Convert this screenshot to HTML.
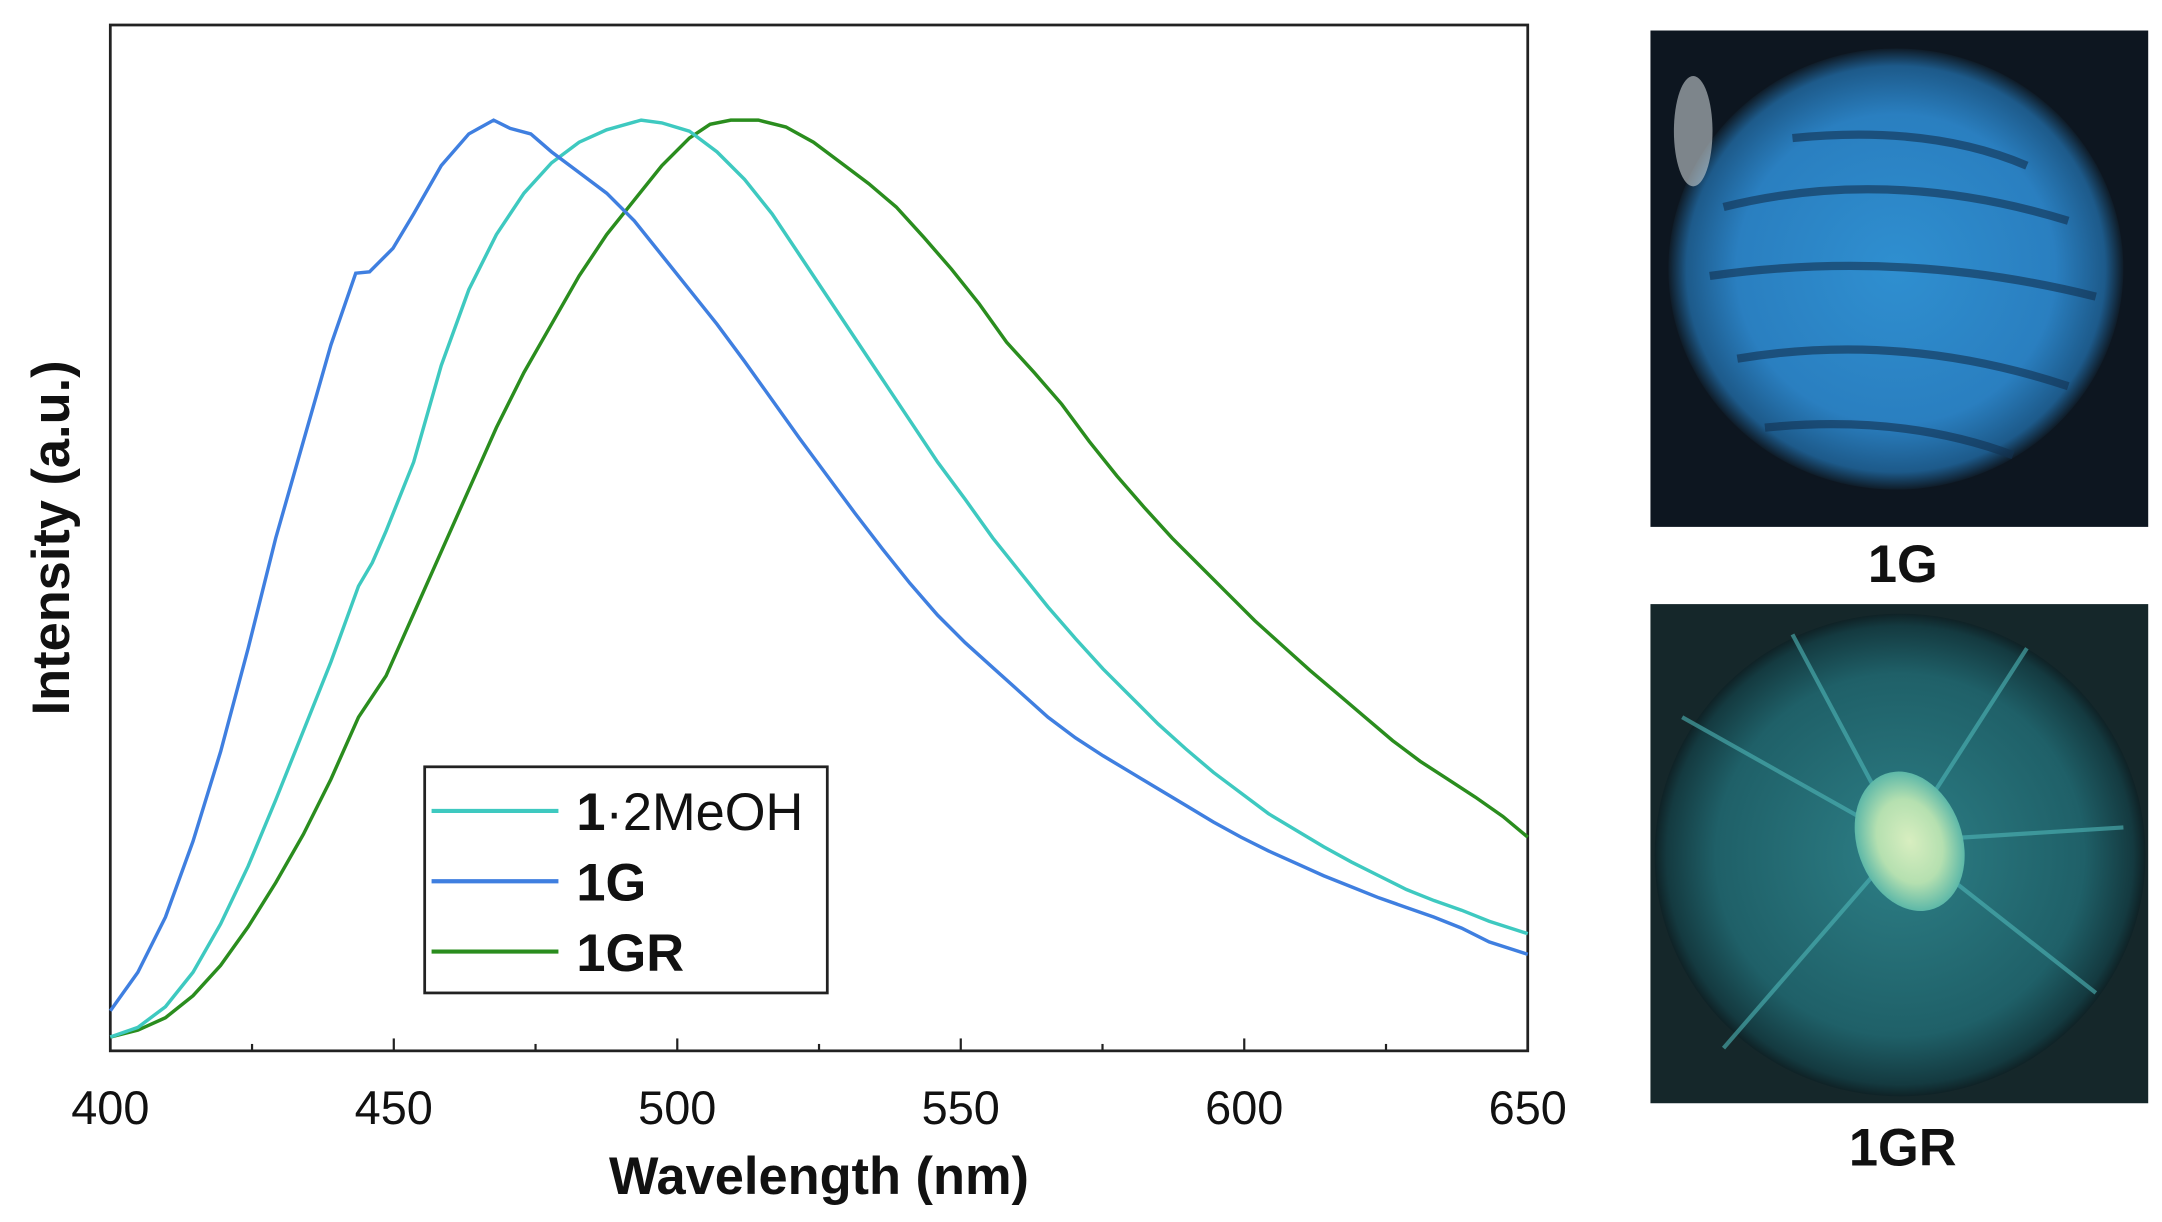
<!DOCTYPE html>
<html><head><meta charset="utf-8"><style>
html,body{margin:0;padding:0;background:#fff;}
svg{display:block;}
</style></head><body>
<svg width="2162" height="1222" viewBox="0 0 1568 886" xmlns="http://www.w3.org/2000/svg" font-family="Liberation Sans, Arial, sans-serif">
<defs>
<radialGradient id="g1" cx="50%" cy="50%" r="50%">
<stop offset="0" stop-color="#2f8fd0"/><stop offset="0.7" stop-color="#2a7fc0"/><stop offset="0.92" stop-color="#1d5a8a"/><stop offset="1" stop-color="#0f1c28"/>
</radialGradient>
<radialGradient id="g2" cx="50%" cy="50%" r="50%">
<stop offset="0" stop-color="#2d7f86"/><stop offset="0.75" stop-color="#1f6068"/><stop offset="0.95" stop-color="#143a40"/><stop offset="1" stop-color="#0f2226"/>
</radialGradient>
<radialGradient id="g3" cx="50%" cy="50%" r="50%">
<stop offset="0" stop-color="#d8eec0"/><stop offset="0.6" stop-color="#b5e0b0"/><stop offset="1" stop-color="#5db8a8"/>
</radialGradient>
</defs>
<rect x="80" y="18" width="1028" height="744" fill="none" stroke="#222" stroke-width="2"/>
<g stroke="#222" stroke-width="1.6">
<line x1="80" y1="762" x2="80" y2="753"/><line x1="285.6" y1="762" x2="285.6" y2="753"/><line x1="491.2" y1="762" x2="491.2" y2="753"/><line x1="696.8" y1="762" x2="696.8" y2="753"/><line x1="902.4" y1="762" x2="902.4" y2="753"/>
<line x1="182.8" y1="762" x2="182.8" y2="757"/><line x1="388.4" y1="762" x2="388.4" y2="757"/><line x1="594" y1="762" x2="594" y2="757"/><line x1="799.6" y1="762" x2="799.6" y2="757"/><line x1="1005.2" y1="762" x2="1005.2" y2="757"/>
</g>
<g font-size="34" fill="#111" text-anchor="middle">
<text x="80" y="815">400</text><text x="285.6" y="815">450</text><text x="491.2" y="815">500</text><text x="696.8" y="815">550</text><text x="902.4" y="815">600</text><text x="1108" y="815">650</text>
</g>
<text x="594" y="866" font-size="38" font-weight="bold" text-anchor="middle" fill="#111">Wavelength (nm)</text>
<text transform="translate(50,390) rotate(-90)" font-size="38" font-weight="bold" text-anchor="middle" fill="#111">Intensity (a.u.)</text>
<polyline fill="none" stroke="#2a8d1e" stroke-width="2.5" points="80,752 100,747 120,738 140,722 160,700 180,672 200,640 220,605 240,565 260,520 280,490 300,445 320,400 340,355 360,310 380,270 400,235 420,200 440,170 460,145 480,120 500,100 515,90 530,87 550,87 570,92 590,103 610,118 630,133 650,150 670,172 690,195 710,220 730,248 750,270 770,293 790,320 810,345 830,368 850,390 870,410 890,430 910,450 930,468 950,486 970,503 990,520 1010,537 1030,552 1050,565 1070,578 1090,592 1108,607"/>
<polyline fill="none" stroke="#3ec9c0" stroke-width="2.5" points="80,752 100,745 120,730 140,705 160,670 180,628 200,580 220,530 240,480 260,425 270,408 280,385 300,335 320,265 340,210 360,170 380,140 400,118 420,103 440,94 465,87 480,89 500,95 520,110 540,130 560,155 580,185 600,215 620,245 640,275 660,305 680,335 700,362 720,390 740,415 760,440 780,463 800,485 820,505 840,525 860,543 880,560 900,575 920,590 940,602 960,614 980,625 1000,635 1020,645 1040,653 1060,660 1080,668 1108,677"/>
<polyline fill="none" stroke="#3f7fe0" stroke-width="2.5" points="80,733 100,705 120,665 140,610 160,545 180,470 200,390 220,320 240,250 258,198 268,197 285,180 300,155 320,120 340,97 358,87 370,93 385,97 400,110 420,125 440,140 460,160 480,185 500,210 520,235 540,262 560,290 580,318 600,345 620,372 640,398 660,423 680,446 700,466 720,484 740,502 760,520 780,535 800,548 820,560 840,572 860,584 880,596 900,607 920,617 940,626 960,635 980,643 1000,651 1020,658 1040,665 1060,673 1080,683 1108,692"/>
<rect x="308" y="556" width="292" height="164" fill="#fff" stroke="#222" stroke-width="2"/>
<line x1="313" y1="588" x2="405" y2="588" stroke="#3ec9c0" stroke-width="3"/>
<line x1="313" y1="639" x2="405" y2="639" stroke="#3f7fe0" stroke-width="3"/>
<line x1="313" y1="690" x2="405" y2="690" stroke="#2a8d1e" stroke-width="3"/>
<g font-size="38" fill="#111">
<text x="418" y="602"><tspan font-weight="bold">1</tspan>·2MeOH</text>
<text x="418" y="653" font-weight="bold">1G</text>
<text x="418" y="704" font-weight="bold">1GR</text>
</g>
<rect x="1197" y="22" width="361" height="360" fill="#0d1620"/>
<ellipse cx="1375" cy="195" rx="165" ry="160" fill="url(#g1)"/>
<g stroke="#123150" stroke-width="6" fill="none" opacity="0.6">
<path d="M1250,150 Q1370,120 1500,160"/><path d="M1240,200 Q1380,180 1520,215"/><path d="M1260,260 Q1380,240 1500,280"/><path d="M1300,100 Q1400,90 1470,120"/><path d="M1280,310 Q1380,300 1460,330"/>
</g>
<ellipse cx="1228" cy="95" rx="14" ry="40" fill="#c8d0d4" opacity="0.6"/>
<rect x="1197" y="438" width="361" height="362" fill="#15272a"/>
<ellipse cx="1378" cy="620" rx="178" ry="175" fill="url(#g2)"/>
<g stroke="#4fb7b8" stroke-width="3" opacity="0.6">
<line x1="1380" y1="610" x2="1220" y2="520"/><line x1="1380" y1="610" x2="1250" y2="760"/><line x1="1380" y1="610" x2="1520" y2="720"/><line x1="1380" y1="610" x2="1300" y2="460"/><line x1="1380" y1="610" x2="1470" y2="470"/><line x1="1380" y1="610" x2="1540" y2="600"/>
</g>
<ellipse cx="1385" cy="610" rx="38" ry="52" fill="url(#g3)" transform="rotate(-20 1385 610)"/>
<g font-size="38" font-weight="bold" fill="#111" text-anchor="middle">
<text x="1380" y="422">1G</text>
<text x="1380" y="845">1GR</text>
</g>
</svg>
</body></html>
